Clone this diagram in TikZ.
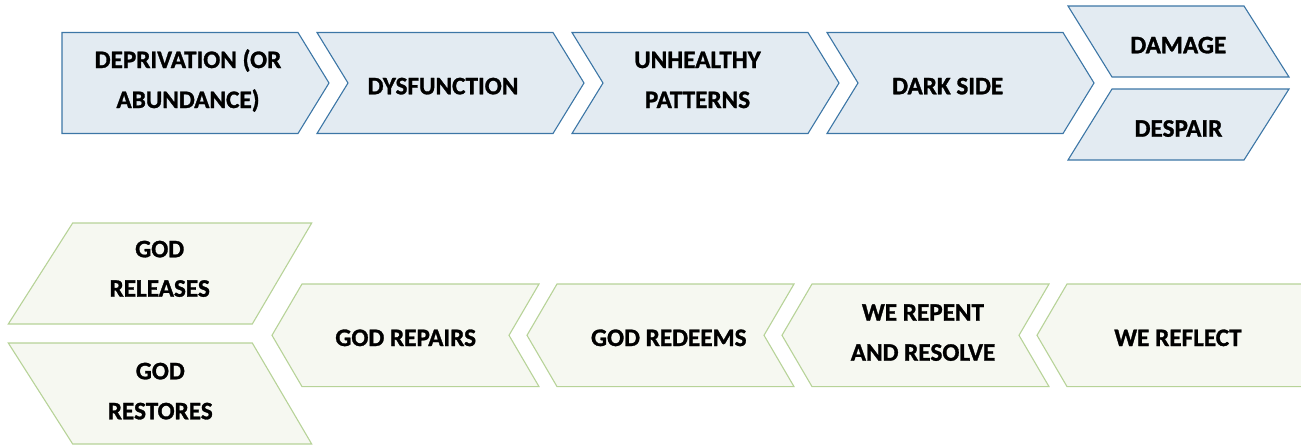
\documentclass[tikz,border=0pt]{standalone}
\usepackage{fontspec}
\setmainfont{Carlito}[BoldFeatures={FakeBold=1.2}]
\definecolor{topfill}{HTML}{E3EBF2}
\definecolor{topline}{HTML}{3C76A6}
\definecolor{botfill}{HTML}{F6F8F1}
\definecolor{botline}{HTML}{B7D398}
\begin{document}
\begin{tikzpicture}[x=1pt,y=-1pt,
  topshape/.style={fill=topfill,draw=topline,line width=1.1pt},
  botshape/.style={fill=botfill,draw=botline,line width=1.1pt},
  lbl/.style={font=\fontsize{25.2}{30}\selectfont\bfseries,inner sep=0pt,anchor=base}]
\useasboundingbox (0,0) rectangle (1301,445);
\clip (0,0) rectangle (1301,445);

% upper row: the descent, flowing to the right
\draw[topshape] (62,32.5) -- (298,32.5) -- (329,83) -- (298,133.5) -- (62,133.5) -- cycle;
\foreach \x in {317,572,827}
  \draw[topshape] (\x,32.5) -- ++(236,0) -- ++(31,50.5) -- ++(-31,50.5)
    -- ++(-236,0) -- ++(31,-50.5) -- cycle;
\draw[topshape] (1068,6) -- (1244,6) -- (1289,77) -- (1112,77) -- cycle;
\draw[topshape] (1112,89) -- (1289,89) -- (1244,160) -- (1068,160) -- cycle;

% lower row: the recovery, flowing to the left
\draw[botshape] (72.7,223) -- (311.7,223) -- (252.3,324) -- (8.3,324) -- cycle;
\draw[botshape] (8.3,343) -- (252.3,343) -- (311.7,444) -- (72.7,444) -- cycle;
\foreach \x in {272,527,782}
  \draw[botshape] (\x,335.3) -- ++(30,-51.3) -- ++(237,0) -- ++(-30,51.3)
    -- ++(30,51.3) -- ++(-237,0) -- cycle;
\draw[botshape] (1037,335.3) -- (1067,284) -- (1310,284) -- (1310,386.6)
  -- (1067,386.6) -- cycle;

% labels, upper row
\node[lbl] (dep1) at (188,68) {DEPRIVATION (OR};
\node[lbl] (dep2) at (188,108) {ABUNDANCE)};
\node[lbl] (dys) at (443,94.3) {DYSFUNCTION};
\node[lbl] (unh1) at (697.5,68) {UNHEALTHY};
\node[lbl] (unh2) at (697.5,108) {PATTERNS};
\node[lbl] (dark) at (947.7,94.3) {DARK SIDE};
\node[lbl] (dam) at (1178.3,53.3) {DAMAGE};
\node[lbl] (desp) at (1178.5,136.7) {DESPAIR};

% labels, lower row
\node[lbl] (rel1) at (159.7,257.3) {GOD};
\node[lbl] (rel2) at (159.7,296.7) {RELEASES};
\node[lbl] (res1) at (160.3,379.3) {GOD};
\node[lbl] (res2) at (160.3,419.3) {RESTORES};
\node[lbl] (rep) at (405.7,346) {GOD REPAIRS};
\node[lbl] (red) at (668.8,346) {GOD REDEEMS};
\node[lbl] (rpt1) at (923,320.7) {WE REPENT};
\node[lbl] (rpt2) at (923,360.7) {AND RESOLVE};
\node[lbl] (refl) at (1178,346) {WE REFLECT};
\end{tikzpicture}
\end{document}
